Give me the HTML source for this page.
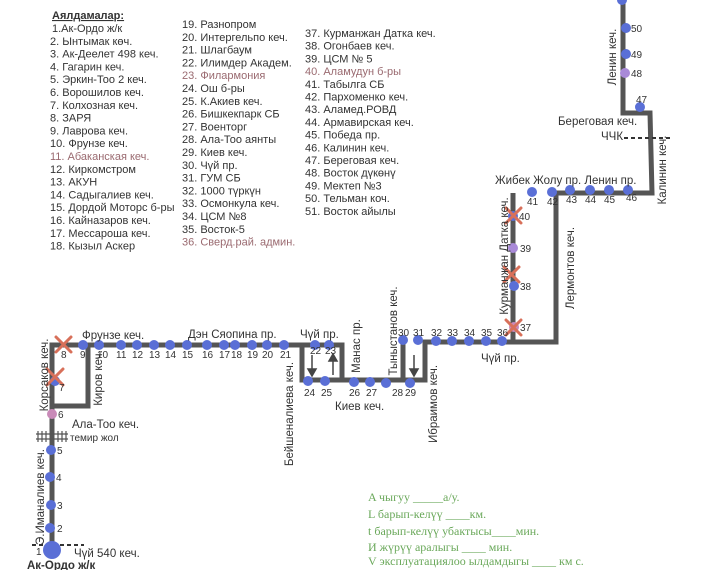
<!DOCTYPE html>
<html><head><meta charset="utf-8"><style>
html,body{margin:0;padding:0;background:#fff}
svg{display:block}
text{font-family:"Liberation Sans",sans-serif;fill:#333}
.lg{font-size:11px}
.st{font-size:11.5px}
.n{font-size:10px;fill:#333}
.g{font-family:"Liberation Serif",serif;font-size:12px;fill:#6aa85a}
.pk{fill:#9a6a70}
</style></head><body>
<svg width="709" height="570" viewBox="0 0 709 570" xmlns="http://www.w3.org/2000/svg">
<rect width="709" height="570" fill="#fff"/>
<!-- legend -->
<text x="52" y="19" class="lg" style="font-weight:bold;text-decoration:underline">Аялдамалар:</text>
<g class="lg">
<text x="52" y="32">1.Ак-Ордо ж/к</text>
<text x="50" y="44.8">2. Ынтымак көч.</text>
<text x="50" y="57.6">3. Ак-Деелет 498 кеч.</text>
<text x="50" y="70.4">4. Гагарин кеч.</text>
<text x="50" y="83.2">5. Эркин-Тоо 2 кеч.</text>
<text x="50" y="96">6. Ворошилов кеч.</text>
<text x="50" y="108.8">7. Колхозная кеч.</text>
<text x="50" y="121.6">8. ЗАРЯ</text>
<text x="50" y="134.4">9. Лаврова кеч.</text>
<text x="50" y="147.2">10. Фрунзе кеч.</text>
<text x="50" y="160" class="pk">11. Абаканская кеч.</text>
<text x="50" y="172.8">12. Киркомстром</text>
<text x="50" y="185.6">13. АКУН</text>
<text x="50" y="198.4">14. Садыгалиев кеч.</text>
<text x="50" y="211.2">15. Дордой Моторс б-ры</text>
<text x="50" y="224">16. Кайназаров кеч.</text>
<text x="50" y="236.8">17. Мессароша кеч.</text>
<text x="50" y="249.6">18. Кызыл Аскер</text>
<text x="182" y="28">19. Разнопром</text>
<text x="182" y="40.8">20. Интергельпо кеч.</text>
<text x="182" y="53.6">21. Шлагбаум</text>
<text x="182" y="66.4">22. Илимдер Академ.</text>
<text x="182" y="79.2" class="pk">23. Филармония</text>
<text x="182" y="92">24. Ош б-ры</text>
<text x="182" y="104.8">25. К.Акиев кеч.</text>
<text x="182" y="117.6">26. Бишкекпарк СБ</text>
<text x="182" y="130.4">27. Военторг</text>
<text x="182" y="143.2">28. Ала-Тоо аянты</text>
<text x="182" y="156">29. Киев кеч.</text>
<text x="182" y="168.8">30. Чүй пр.</text>
<text x="182" y="181.6">31. ГУМ СБ</text>
<text x="182" y="194.4">32. 1000 түркүн</text>
<text x="182" y="207.2">33. Осмонкула кеч.</text>
<text x="182" y="220">34. ЦСМ №8</text>
<text x="182" y="232.8">35. Восток-5</text>
<text x="182" y="245.6" class="pk">36. Сверд.рай. админ.</text>
<text x="305" y="37">37. Курманжан Датка кеч.</text>
<text x="305" y="49.7">38. Огонбаев кеч.</text>
<text x="305" y="62.4">39. ЦСМ № 5</text>
<text x="305" y="75.1" class="pk">40. Аламудун б-ры</text>
<text x="305" y="87.8">41. Табылга СБ</text>
<text x="305" y="100.5">42. Пархоменко кеч.</text>
<text x="305" y="113.2">43. Аламед.РОВД</text>
<text x="305" y="125.9">44. Армавирская кеч.</text>
<text x="305" y="138.6">45. Победа пр.</text>
<text x="305" y="151.3">46. Калинин кеч.</text>
<text x="305" y="164">47. Береговая кеч.</text>
<text x="305" y="176.7">48. Восток дүкөнү</text>
<text x="305" y="189.4">49. Мектеп №3</text>
<text x="305" y="202.1">50. Тельман коч.</text>
<text x="305" y="214.8">51. Восток айылы</text>
</g>
<!-- route lines -->
<g stroke="#555" stroke-width="5" fill="none" stroke-linejoin="miter">
<polyline points="52,552 52,345 302,345 302,380 425,380 425,342 556,342 556,193 652,193 650,113 623,113 623,0"/>
<polyline points="52,406 88,406 88,345"/>
<polyline points="302,345 342,345 342,380"/>
<polyline points="403,380 403,342"/>
<polyline points="513,342 513,193"/>
</g>
<!-- dashed lines -->
<line x1="32" y1="545" x2="84" y2="545" stroke="#333" stroke-width="2" stroke-dasharray="4,3"/>
<line x1="624" y1="138" x2="671" y2="138" stroke="#333" stroke-width="2" stroke-dasharray="4,3"/>
<!-- railway -->
<g stroke="#555" stroke-width="1.2">
<line x1="36" y1="434" x2="68" y2="434"/><line x1="36" y1="439" x2="68" y2="439"/>
<line x1="38" y1="431" x2="38" y2="442"/><line x1="42" y1="431" x2="42" y2="442"/><line x1="46" y1="431" x2="46" y2="442"/><line x1="58" y1="431" x2="58" y2="442"/><line x1="62" y1="431" x2="62" y2="442"/><line x1="66" y1="431" x2="66" y2="442"/>
</g>
<text x="70" y="441" style="font-size:10px">темир жол</text>
<!-- arrows -->
<g stroke="#444" stroke-width="1.5" fill="#444">
<line x1="312" y1="355" x2="312" y2="370"/><polygon points="308,369 316,369 312,376"/>
<line x1="333" y1="375" x2="333" y2="360"/><polygon points="329,361 337,361 333,354"/>
<line x1="414" y1="355" x2="414" y2="370"/><polygon points="410,369 418,369 414,376"/>
</g>
<!-- stops -->
<g fill="#5a6fd6">
<circle cx="52" cy="550" r="9"/>
<circle cx="50" cy="528" r="5"/><circle cx="51" cy="505" r="5"/><circle cx="50" cy="477" r="5"/><circle cx="51" cy="450" r="5"/>
<circle cx="55" cy="381" r="5"/>
<circle cx="83" cy="345" r="5"/><circle cx="99" cy="345" r="5"/><circle cx="121" cy="345" r="5"/><circle cx="137" cy="345" r="5"/><circle cx="154" cy="345" r="5"/><circle cx="170" cy="345" r="5"/><circle cx="187" cy="345" r="5"/><circle cx="207" cy="345" r="5"/><circle cx="224" cy="345" r="5"/><circle cx="235" cy="345" r="5"/><circle cx="252" cy="345" r="5"/><circle cx="267" cy="345" r="5"/><circle cx="284" cy="345" r="5"/>
<circle cx="315" cy="345" r="5"/><circle cx="329" cy="345" r="5"/>
<circle cx="308" cy="381" r="5"/><circle cx="325" cy="381" r="5"/><circle cx="354" cy="382" r="5"/><circle cx="370" cy="382" r="5"/><circle cx="386" cy="383" r="5"/><circle cx="410" cy="383" r="5"/>
<circle cx="403" cy="340" r="5"/><circle cx="418" cy="340" r="5"/><circle cx="436" cy="341" r="5"/><circle cx="452" cy="341" r="5"/><circle cx="469" cy="341" r="5"/><circle cx="486" cy="341" r="5"/><circle cx="502" cy="341" r="5"/>
<circle cx="514" cy="286" r="5"/><circle cx="513" cy="216" r="5"/>
<circle cx="532" cy="192" r="5"/><circle cx="552" cy="192" r="5"/><circle cx="570" cy="190" r="5"/><circle cx="590" cy="190" r="5"/><circle cx="609" cy="190" r="5"/><circle cx="628" cy="190" r="5"/>
<circle cx="640" cy="107" r="5"/><circle cx="626" cy="54" r="5"/><circle cx="626" cy="28" r="5"/><circle cx="622" cy="0" r="5"/>
</g>
<g fill="#a98ad8"><circle cx="52" cy="414" r="5" fill="#c98ab8"/><circle cx="513" cy="248" r="5"/><circle cx="625" cy="73" r="5"/><circle cx="514" cy="327" r="5" fill="#c98ab8"/></g>
<!-- X marks -->
<g stroke="#d8705a" stroke-width="3" stroke-linecap="round">
<line x1="56" y1="337" x2="71" y2="352"/><line x1="71" y1="337" x2="56" y2="352"/>
<line x1="47" y1="369" x2="63" y2="385"/><line x1="63" y1="369" x2="47" y2="385"/>
<line x1="506" y1="320" x2="521" y2="335"/><line x1="521" y1="320" x2="506" y2="335"/>
<line x1="504" y1="267" x2="519" y2="282"/><line x1="519" y1="267" x2="504" y2="282"/>
<line x1="506" y1="208" x2="521" y2="223"/><line x1="521" y1="208" x2="506" y2="223"/>
</g>
<!-- stop numbers -->
<g class="n">
<text x="36" y="555">1</text><text x="57" y="532">2</text><text x="57" y="509">3</text><text x="56" y="481">4</text><text x="57" y="454">5</text><text x="58" y="418">6</text><text x="59" y="391">7</text>
<text x="61" y="358">8</text><text x="80" y="358">9</text><text x="97" y="358">10</text><text x="116" y="358">11</text><text x="132" y="358">12</text><text x="149" y="358">13</text><text x="165" y="358">14</text><text x="182" y="358">15</text><text x="202" y="358">16</text><text x="219" y="358">17</text><text x="231" y="358">18</text><text x="247" y="358">19</text><text x="262" y="358">20</text><text x="280" y="358">21</text>
<text x="310" y="354">22</text><text x="325" y="354">23</text>
<text x="304" y="396">24</text><text x="321" y="396">25</text><text x="349" y="396">26</text><text x="366" y="396">27</text><text x="392" y="396">28</text><text x="405" y="396">29</text>
<text x="398" y="336">30</text><text x="413" y="336">31</text><text x="431" y="336">32</text><text x="447" y="336">33</text><text x="464" y="336">34</text><text x="481" y="336">35</text><text x="497" y="336">36</text>
<text x="520" y="331">37</text><text x="520" y="290">38</text><text x="520" y="252">39</text><text x="519" y="220">40</text>
<text x="527" y="205">41</text><text x="547" y="205">42</text><text x="566" y="203">43</text><text x="585" y="203">44</text><text x="604" y="203">45</text><text x="626" y="201">46</text>
<text x="636" y="103">47</text><text x="631" y="77">48</text><text x="631" y="58">49</text><text x="631" y="32">50</text>
</g>
<!-- street labels -->
<g class="st">
<text x="82" y="339">Фрунзе кеч.</text>
<text x="188" y="338">Дэн Сяопина пр.</text>
<text x="300" y="338">Чүй пр.</text>
<text x="72" y="428">Ала-Тоо кеч.</text>
<text x="74" y="557">Чүй 540 кеч.</text>
<text x="27" y="569" style="font-weight:bold">Ак-Ордо ж/к</text>
<text x="335" y="410">Киев кеч.</text>
<text x="481" y="362">Чүй пр.</text>
<text x="495" y="184">Жибек Жолу пр. Ленин пр.</text>
<text x="558" y="125">Береговая кеч.</text>
<text x="601" y="140">ЧЧК</text>
<text transform="translate(48,375) rotate(-90)" text-anchor="middle">Корсаков кеч.</text>
<text transform="translate(102,378) rotate(-90)" text-anchor="middle">Киров кеч.</text>
<text transform="translate(44,497) rotate(-90)" text-anchor="middle">Э.Иманалиев кеч.</text>
<text transform="translate(293,414) rotate(-90)" text-anchor="middle">Бейшеналиева кеч.</text>
<text transform="translate(360,346) rotate(-90)" text-anchor="middle">Манас пр.</text>
<text transform="translate(397,331) rotate(-90)" text-anchor="middle">Тыныстанов кеч.</text>
<text transform="translate(437,404) rotate(-90)" text-anchor="middle">Ибраимов кеч.</text>
<text transform="translate(508,256) rotate(-90)" text-anchor="middle">Курманжан Датка кеч.</text>
<text transform="translate(574,268) rotate(-90)" text-anchor="middle">Лермонтов кеч.</text>
<text transform="translate(666,170) rotate(-90)" text-anchor="middle">Калинин кеч.</text>
<text transform="translate(616,57) rotate(-90)" text-anchor="middle">Ленин кеч.</text>
</g>
<!-- green notes -->
<text x="368" y="501" class="g">A чыгуу  _____а/у.</text>
<text x="368" y="518" class="g">L барып-келүү  ____км.</text>
<text x="368" y="535" class="g">t барып-келүү убактысы____мин.</text>
<text x="368" y="551" class="g">И жүрүү аралыгы ____     мин.</text>
<text x="368" y="565" class="g">V эксплуатациялоо ылдамдыгы ____ км с.</text>
</svg>
</body></html>
